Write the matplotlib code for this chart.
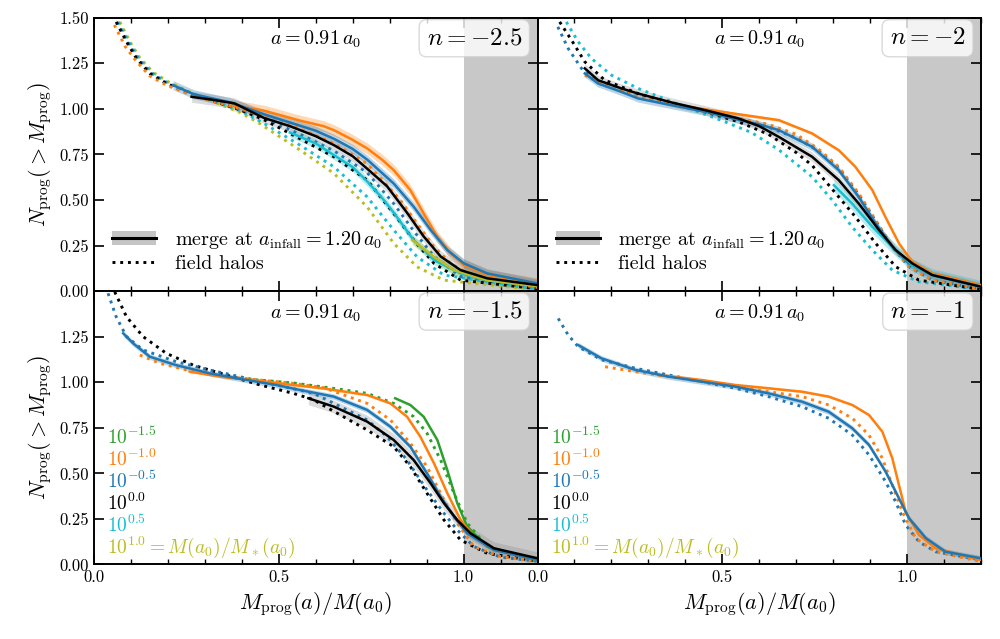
import matplotlib
matplotlib.use("Agg")
import matplotlib.pyplot as plt
from matplotlib.lines import Line2D
from matplotlib.patches import Patch
from matplotlib.ticker import MultipleLocator, FormatStrFormatter

plt.rcParams['font.family'] = 'serif'
plt.rcParams['font.serif'] = ['cmr10', 'DejaVu Serif']
plt.rcParams['mathtext.fontset'] = 'cm'
plt.rcParams['axes.unicode_minus'] = False
plt.rcParams['axes.formatter.use_mathtext'] = True

# colours for the mass bins M(a0)/M*(a0)
C_GREEN, C_ORANGE, C_BLUE = '#2ca02c', '#ff7f0e', '#1f77b4'
C_BLACK, C_CYAN, C_OLIVE = 'black', '#17becf', '#bcbd22'

panel_n = ['-2.5', '-2', '-1.5', '-1']
mass_labels = [r'$10^{-1.5}$', r'$10^{-1.0}$', r'$10^{-0.5}$', r'$10^{0.0}$',
               r'$10^{0.5}$', r'$10^{1.0} = M(a_0)/M_*(a_0)$']
mass_colors = [C_GREEN, C_ORANGE, C_BLUE, C_BLACK, C_CYAN, C_OLIVE]

# ---------------- n = -2.5 ----------------
m25_black_x = [0.264, 0.32, 0.38, 0.46, 0.53, 0.6, 0.65, 0.7, 0.74, 0.793, 0.847, 0.892, 0.938, 0.992, 1.064, 1.2]
m25_black_y = [1.066, 1.05, 1.03, 0.95, 0.905, 0.85, 0.8, 0.74, 0.67, 0.575, 0.43, 0.30, 0.19, 0.115, 0.07, 0.033]
m25_blue_x = [0.214, 0.27, 0.37, 0.46, 0.53, 0.6, 0.65, 0.7, 0.74, 0.811, 0.865, 0.911, 0.956, 1.001, 1.064, 1.2]
m25_blue_y = [1.13, 1.08, 1.035, 0.97, 0.925, 0.88, 0.835, 0.78, 0.72, 0.59, 0.463, 0.335, 0.225, 0.152, 0.097, 0.042]
m25_orange_x = [0.372, 0.46, 0.558, 0.621, 0.649, 0.695, 0.739, 0.78, 0.811, 0.856, 0.892, 0.929, 0.965, 1.001, 1.064, 1.2]
m25_orange_y = [1.02, 0.99, 0.935, 0.905, 0.883, 0.835, 0.783, 0.72, 0.664, 0.554, 0.426, 0.298, 0.207, 0.143, 0.088, 0.042]
m25_cyan_x = [0.53, 0.6, 0.65, 0.7, 0.74, 0.78, 0.811, 0.865, 0.92, 0.992, 1.064, 1.2]
m25_cyan_y = [0.87, 0.81, 0.745, 0.68, 0.60, 0.51, 0.43, 0.28, 0.17, 0.097, 0.06, 0.03]
m25_olive_x = [0.861, 0.92, 0.974, 1.064, 1.2]
m25_olive_y = [0.28, 0.188, 0.115, 0.06, 0.027]

m25_fo_x = [0.055, 0.085, 0.115, 0.151, 0.196, 0.259, 0.341, 0.395, 0.46, 0.558, 0.649, 0.739, 0.829, 0.874, 0.92, 0.965, 1.028, 1.2]
m25_fo_y = [1.46, 1.34, 1.26, 1.18, 1.13, 1.078, 1.03, 1.0, 0.96, 0.89, 0.81, 0.70, 0.499, 0.371, 0.243, 0.152, 0.078, 0.02]
m25_fk_x = [0.06, 0.088, 0.115, 0.151, 0.196, 0.259, 0.341, 0.395, 0.46, 0.558, 0.649, 0.739, 0.811, 0.865, 0.92, 0.992, 1.2]
m25_fk_y = [1.477, 1.368, 1.276, 1.194, 1.139, 1.084, 1.03, 0.995, 0.94, 0.835, 0.737, 0.609, 0.426, 0.28, 0.152, 0.06, 0.013]
m25_fb_x = [0.062, 0.09, 0.117, 0.153, 0.198, 0.259, 0.341, 0.395, 0.46, 0.558, 0.649, 0.739, 0.811, 0.865, 0.92, 0.992, 1.2]
m25_fb_y = [1.477, 1.37, 1.28, 1.197, 1.14, 1.085, 1.03, 0.995, 0.95, 0.86, 0.77, 0.65, 0.48, 0.33, 0.19, 0.08, 0.015]
m25_fc_x = [0.066, 0.093, 0.12, 0.156, 0.2, 0.262, 0.341, 0.395, 0.46, 0.558, 0.649, 0.739, 0.811, 0.874, 0.947, 1.2]
m25_fc_y = [1.477, 1.37, 1.28, 1.198, 1.142, 1.087, 1.03, 0.99, 0.92, 0.80, 0.682, 0.517, 0.335, 0.188, 0.088, 0.009]
m25_fy_x = [0.07, 0.097, 0.124, 0.16, 0.204, 0.265, 0.341, 0.395, 0.44, 0.558, 0.649, 0.739, 0.811, 0.874, 0.947, 1.2]
m25_fy_y = [1.477, 1.37, 1.28, 1.2, 1.145, 1.088, 1.025, 0.98, 0.93, 0.773, 0.646, 0.462, 0.262, 0.133, 0.06, 0.005]

# ---------------- n = -2 ----------------
m20_black_x = [0.128, 0.164, 0.227, 0.272, 0.363, 0.453, 0.543, 0.6, 0.653, 0.743, 0.815, 0.869, 0.924, 0.969, 1.014, 1.068, 1.2]
m20_black_y = [1.222, 1.157, 1.112, 1.084, 1.035, 0.993, 0.948, 0.905, 0.846, 0.737, 0.609, 0.481, 0.335, 0.225, 0.152, 0.088, 0.024]
m20_blue_x = [0.128, 0.164, 0.227, 0.272, 0.363, 0.453, 0.543, 0.6, 0.653, 0.743, 0.815, 0.869, 0.915, 0.96, 1.005, 1.068, 1.2]
m20_blue_y = [1.194, 1.139, 1.093, 1.057, 1.02, 0.984, 0.94, 0.915, 0.883, 0.792, 0.664, 0.517, 0.371, 0.243, 0.152, 0.088, 0.024]
m20_orange_x = [0.408, 0.498, 0.562, 0.653, 0.743, 0.815, 0.86, 0.906, 0.941, 0.978, 1.014, 1.068, 1.2]
m20_orange_y = [1.011, 0.984, 0.965, 0.938, 0.865, 0.773, 0.682, 0.554, 0.408, 0.262, 0.161, 0.097, 0.033]
m20_cyan_x = [0.802, 0.851, 0.906, 0.96, 1.014, 1.068, 1.2]
m20_cyan_y = [0.581, 0.481, 0.353, 0.243, 0.143, 0.088, 0.024]

m20_fk_x = [0.06, 0.092, 0.128, 0.182, 0.272, 0.363, 0.453, 0.543, 0.625, 0.7, 0.743, 0.797, 0.86, 0.915, 0.969, 1.032, 1.2]
m20_fk_y = [1.477, 1.377, 1.258, 1.157, 1.084, 1.03, 0.984, 0.93, 0.86, 0.76, 0.69, 0.56, 0.408, 0.262, 0.134, 0.06, 0.009]
m20_fc_x = [0.078, 0.11, 0.146, 0.2, 0.272, 0.363, 0.435, 0.507, 0.579, 0.653, 0.743, 0.797, 0.851, 0.906, 0.96, 1.032, 1.2]
m20_fc_y = [1.477, 1.368, 1.276, 1.185, 1.112, 1.039, 0.984, 0.929, 0.87, 0.775, 0.627, 0.5, 0.353, 0.225, 0.115, 0.051, 0.009]
m20_fb_x = [0.055, 0.083, 0.119, 0.16, 0.25, 0.363, 0.453, 0.543, 0.625, 0.7, 0.76, 0.815, 0.869, 0.915, 0.96, 1.005, 1.068, 1.2]
m20_fb_y = [1.45, 1.331, 1.222, 1.15, 1.085, 1.025, 0.985, 0.94, 0.9, 0.84, 0.77, 0.675, 0.53, 0.385, 0.243, 0.134, 0.06, 0.011]
m20_fo_x = [0.128, 0.182, 0.272, 0.363, 0.453, 0.543, 0.625, 0.7, 0.76, 0.815, 0.869, 0.915, 0.96, 1.005, 1.068, 1.2]
m20_fo_y = [1.185, 1.13, 1.066, 1.023, 0.984, 0.948, 0.915, 0.86, 0.78, 0.682, 0.536, 0.389, 0.243, 0.134, 0.06, 0.011]

# ---------------- n = -1.5 ----------------
m15_black_x = [0.58, 0.649, 0.739, 0.811, 0.865, 0.911, 0.947, 0.983, 1.019, 1.082, 1.2]
m15_black_y = [0.912, 0.866, 0.784, 0.683, 0.573, 0.445, 0.336, 0.244, 0.171, 0.089, 0.034]
m15_blue_x = [0.079, 0.106, 0.151, 0.222, 0.313, 0.402, 0.493, 0.558, 0.649, 0.739, 0.802, 0.856, 0.901, 0.938, 0.974, 1.01, 1.082, 1.2]
m15_blue_y = [1.268, 1.213, 1.14, 1.094, 1.049, 1.016, 0.985, 0.957, 0.921, 0.848, 0.756, 0.646, 0.5, 0.372, 0.262, 0.171, 0.08, 0.025]
m15_orange_x = [0.259, 0.359, 0.449, 0.539, 0.621, 0.739, 0.802, 0.847, 0.883, 0.92, 0.956, 0.992, 1.028, 1.082, 1.2]
m15_orange_y = [1.058, 1.026, 1.008, 0.985, 0.966, 0.93, 0.884, 0.811, 0.701, 0.555, 0.391, 0.244, 0.152, 0.08, 0.025]
m15_green_x = [0.815, 0.856, 0.892, 0.929, 0.956, 0.983, 1.01, 1.064, 1.2]
m15_green_y = [0.912, 0.875, 0.811, 0.683, 0.518, 0.336, 0.207, 0.098, 0.023]

m15_fk_x = [0.056, 0.088, 0.133, 0.196, 0.268, 0.359, 0.449, 0.539, 0.593, 0.649, 0.739, 0.811, 0.856, 0.901, 0.947, 0.992, 1.064, 1.2]
m15_fk_y = [1.496, 1.359, 1.25, 1.158, 1.094, 1.039, 0.985, 0.939, 0.905, 0.84, 0.738, 0.646, 0.537, 0.391, 0.244, 0.134, 0.061, 0.018]
m15_fb_x = [0.038, 0.06, 0.088, 0.133, 0.222, 0.313, 0.402, 0.493, 0.593, 0.649, 0.739, 0.793, 0.847, 0.901, 0.947, 0.983, 1.028, 1.1, 1.2]
m15_fb_y = [1.488, 1.359, 1.25, 1.177, 1.113, 1.067, 1.027, 0.985, 0.94, 0.884, 0.793, 0.701, 0.573, 0.409, 0.281, 0.189, 0.098, 0.04, 0.018]
m15_fo_x = [0.124, 0.178, 0.268, 0.359, 0.449, 0.539, 0.621, 0.739, 0.802, 0.856, 0.901, 0.947, 0.983, 1.028, 1.1, 1.2]
m15_fo_y = [1.149, 1.104, 1.058, 1.03, 1.012, 0.994, 0.97, 0.884, 0.793, 0.665, 0.537, 0.354, 0.226, 0.098, 0.043, 0.018]
m15_fg_x = [0.395, 0.539, 0.649, 0.739, 0.811, 0.865, 0.901, 0.938, 0.974, 1.01, 1.064, 1.2]
m15_fg_y = [1.021, 0.996, 0.966, 0.939, 0.884, 0.811, 0.72, 0.573, 0.391, 0.226, 0.098, 0.018]

# ---------------- n = -1 ----------------
m10_blue_x = [0.11, 0.173, 0.264, 0.354, 0.445, 0.535, 0.625, 0.716, 0.788, 0.852, 0.897, 0.942, 0.978, 1.005, 1.051, 1.104, 1.2]
m10_blue_y = [1.204, 1.131, 1.068, 1.031, 1.003, 0.976, 0.939, 0.893, 0.838, 0.747, 0.656, 0.509, 0.363, 0.254, 0.144, 0.07, 0.034]
m10_orange_x = [0.327, 0.445, 0.535, 0.625, 0.716, 0.788, 0.852, 0.897, 0.933, 0.96, 0.978, 0.996, 1.032, 1.077, 1.2]
m10_orange_y = [1.04, 1.012, 0.985, 0.967, 0.948, 0.921, 0.875, 0.82, 0.729, 0.583, 0.436, 0.29, 0.162, 0.089, 0.025]

m10_fb_x = [0.056, 0.083, 0.11, 0.173, 0.264, 0.354, 0.445, 0.535, 0.625, 0.716, 0.788, 0.852, 0.897, 0.942, 0.969, 0.996, 1.032, 1.077, 1.2]
m10_fb_y = [1.35, 1.259, 1.195, 1.123, 1.077, 1.04, 1.003, 0.967, 0.921, 0.866, 0.802, 0.71, 0.601, 0.454, 0.344, 0.217, 0.125, 0.07, 0.025]
m10_fo_x = [0.183, 0.264, 0.354, 0.445, 0.535, 0.625, 0.716, 0.788, 0.852, 0.897, 0.933, 0.96, 0.987, 1.023, 1.077, 1.2]
m10_fo_y = [1.085, 1.058, 1.031, 1.003, 0.976, 0.948, 0.921, 0.875, 0.802, 0.71, 0.583, 0.436, 0.29, 0.144, 0.07, 0.016]

# (colour, x, y, band half-width)
solid = [
    [(C_ORANGE, m25_orange_x, m25_orange_y, 0.03), (C_BLUE, m25_blue_x, m25_blue_y, 0.025),
     (C_CYAN, m25_cyan_x, m25_cyan_y, 0.025), (C_OLIVE, m25_olive_x, m25_olive_y, 0.025),
     (C_BLACK, m25_black_x, m25_black_y, 0.03)],
    [(C_ORANGE, m20_orange_x, m20_orange_y, 0.008), (C_BLUE, m20_blue_x, m20_blue_y, 0.02),
     (C_CYAN, m20_cyan_x, m20_cyan_y, 0.035), (C_BLACK, m20_black_x, m20_black_y, 0.025)],
    [(C_GREEN, m15_green_x, m15_green_y, 0.004), (C_ORANGE, m15_orange_x, m15_orange_y, 0.006),
     (C_BLUE, m15_blue_x, m15_blue_y, 0.015), (C_BLACK, m15_black_x, m15_black_y, 0.035)],
    [(C_ORANGE, m10_orange_x, m10_orange_y, 0.006), (C_BLUE, m10_blue_x, m10_blue_y, 0.015)],
]
dotted = [
    [(C_OLIVE, m25_fy_x, m25_fy_y), (C_CYAN, m25_fc_x, m25_fc_y), (C_BLUE, m25_fb_x, m25_fb_y),
     (C_BLACK, m25_fk_x, m25_fk_y), (C_ORANGE, m25_fo_x, m25_fo_y)],
    [(C_CYAN, m20_fc_x, m20_fc_y), (C_BLUE, m20_fb_x, m20_fb_y),
     (C_BLACK, m20_fk_x, m20_fk_y), (C_ORANGE, m20_fo_x, m20_fo_y)],
    [(C_BLACK, m15_fk_x, m15_fk_y), (C_BLUE, m15_fb_x, m15_fb_y),
     (C_ORANGE, m15_fo_x, m15_fo_y), (C_GREEN, m15_fg_x, m15_fg_y)],
    [(C_BLUE, m10_fb_x, m10_fb_y), (C_ORANGE, m10_fo_x, m10_fo_y)],
]

fig, axes = plt.subplots(2, 2, figsize=(10, 6.39), dpi=100, sharex=True)
fig.subplots_adjust(left=0.094, right=0.981, bottom=0.1166, top=0.9723, hspace=0, wspace=0)

for k, ax in enumerate(axes.flat):
    ax.axvspan(1.0, 1.2, color='#c8c8c8', lw=0, zorder=0)
    for c, x, y, e in solid[k]:
        band = '0.55' if c == C_BLACK else c
        ax.fill_between(x, [v - e for v in y], [v + e for v in y], color=band,
                        alpha=0.3, lw=0, zorder=1)
    for c, x, y in dotted[k]:
        ax.plot(x, y, ls=':', color=c, lw=2.1, zorder=2)
    for c, x, y, e in solid[k]:
        ax.plot(x, y, '-', color=c, lw=1.8, zorder=3)

    ax.set_xlim(0, 1.2)
    ax.set_ylim(0, 1.5)
    ax.xaxis.set_major_locator(MultipleLocator(0.5))
    ax.xaxis.set_minor_locator(MultipleLocator(0.1))
    ax.yaxis.set_major_locator(MultipleLocator(0.25))
    ax.xaxis.set_major_formatter(FormatStrFormatter('%.1f'))
    ax.yaxis.set_major_formatter(FormatStrFormatter('%.2f'))
    ax.tick_params(which='both', direction='in', top=True, right=True, labelsize=12)
    ax.tick_params(which='major', length=7, width=1.2)
    ax.tick_params(which='minor', length=3.5, width=1.0)
    for s in ax.spines.values():
        s.set_linewidth(1.4)

    ax.text(0.5, 0.92, r'$a = 0.91\,a_0$', transform=ax.transAxes, ha='center', va='center',
            fontsize=14.5)
    ax.text(0.965, 0.925, r'$n = ' + panel_n[k] + '$', transform=ax.transAxes, ha='right',
            va='center', fontsize=18,
            bbox=dict(boxstyle='round,pad=0.3', fc='white', ec='#d0d0d0', alpha=0.8))

for ax in axes[0]:
    h_merge = (Patch(fc='0.55', alpha=0.5, lw=0), Line2D([], [], color='black', lw=2.2))
    h_field = Line2D([], [], color='black', ls=':', lw=2.1)
    ax.legend([h_merge, h_field],
              [r'merge at $a_{\rm infall} = 1.20\,a_0$', 'field halos'],
              loc='lower left', bbox_to_anchor=(0.0, 0.0), frameon=False, fontsize=14.5,
              handlelength=2.2, handletextpad=0.9, labelspacing=0.2)

for ax in axes[1]:
    for j, (lab, c) in enumerate(zip(mass_labels, mass_colors)):
        ax.text(0.03, 0.466 - 0.0805 * j, lab, color=c, transform=ax.transAxes,
                ha='left', va='center', fontsize=14)

axes[1, 0].set_yticks([0, 0.25, 0.5, 0.75, 1.0, 1.25, 1.5])
axes[1, 0].set_yticklabels(['0.00', '0.25', '0.50', '0.75', '1.00', '1.25', ''])
for ax in axes[:, 0]:
    ax.set_ylabel(r'$N_{\rm prog}(>M_{\rm prog})$', fontsize=16)
for ax in axes[1]:
    ax.set_xlabel(r'$M_{\rm prog}(a)/M(a_0)$', fontsize=16)
for ax in axes[:, 1]:
    ax.tick_params(labelleft=False)
for ax in axes[0]:
    ax.tick_params(labelbottom=False)

fig.savefig('out.png', dpi=100)
